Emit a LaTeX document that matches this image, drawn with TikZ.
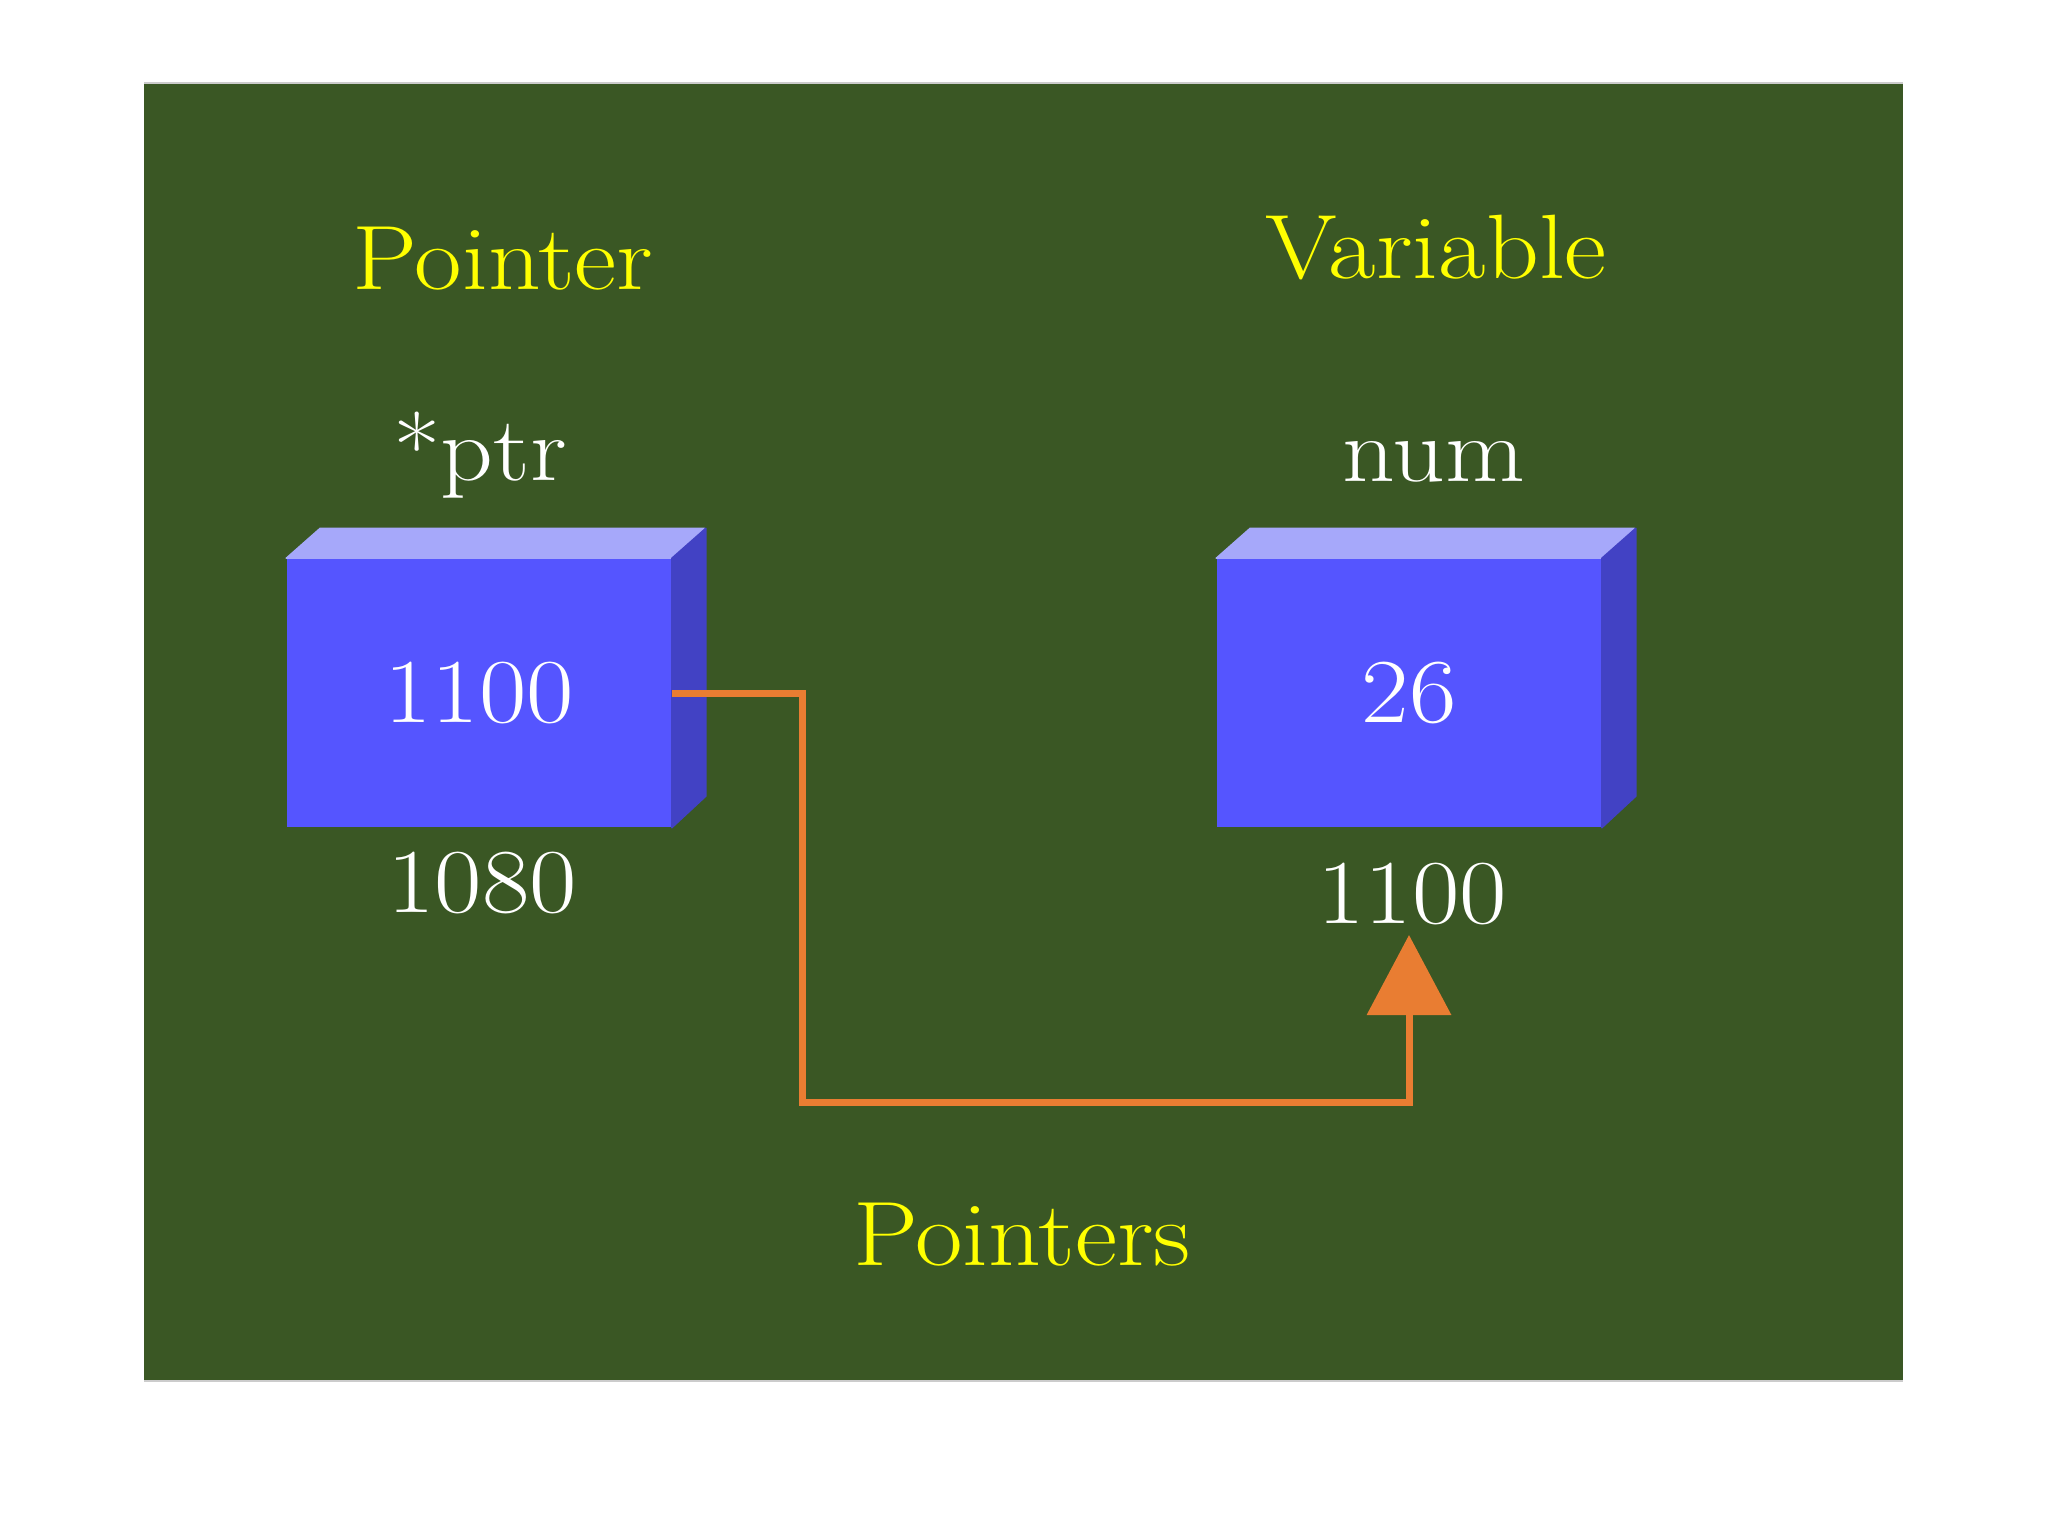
\documentclass[tikz,border=0pt]{standalone}
\usepackage{graphicx}
\usetikzlibrary{arrows.meta}
\definecolor{bgreen}{RGB}{58,87,36}
\definecolor{frontblue}{RGB}{85,85,255}
\definecolor{topblue}{RGB}{166,168,250}
\definecolor{sideblue}{RGB}{66,66,196}
\definecolor{ptrorange}{RGB}{233,125,50}
\definecolor{ylw}{RGB}{255,255,0}
\newcommand\widetxt[1]{\scalebox{1.13}[1]{#1}}
\tikzset{
  big/.style={font=\fontsize{26}{31}\selectfont, inner sep=0pt, anchor=base},
  title/.style={big, text=ylw},
  label/.style={big, text=white},
  frontbox/.style={fill=frontblue, draw=none, minimum width=3.84cm, minimum height=2.68cm,
    inner sep=0pt, text=white, font=\fontsize{26}{31}\selectfont},
  topface/.style={fill=topblue, draw=topblue, line width=0.4pt, line join=round},
  sideface/.style={fill=sideblue, draw=sideblue, line width=0.4pt, line join=round},
  ptrline/.style={draw=ptrorange, line width=0.07cm, line join=miter,
    -{Triangle[length=0.8cm, width=0.83cm]}},
}
\begin{document}
\begin{tikzpicture}[x=0.01cm, y=-0.01cm]
\useasboundingbox (0,0) rectangle (2048,1536);
\fill[white] (0,0) rectangle (2048,1536);
\fill[bgreen] (144,83) rectangle (1903,1381);
\draw[gray!40, line width=0.02cm] (144,83) -- (1903,83);
\draw[gray!40, line width=0.02cm] (144,1381) -- (1903,1381);

% titles
\node[title] (tptr) at (503,289) {\widetxt{Pointer}};
\node[title] (tvar) at (1436,278) {\widetxt{Variable}};
\node[title] (tbottom) at (1022,1265) {\widetxt{Pointers}};

% names
\node[label] (nptr) at (480,480) {\widetxt{*ptr}};
\node[label] (nnum) at (1434,481) {\widetxt{num}};

% box 1
\node[frontbox] (b1) at (479,693) {\widetxt{1100}};
\path[topface] (b1.north west) -- ++(34,-30) -- ++(384,0) -- (b1.north east) -- cycle;
\path[sideface] (b1.north east) -- ++(34,-30) -- ++(0,268) -- (b1.south east) -- cycle;

% box 2
\node[frontbox] (b2) at (1409,693) {\widetxt{26}};
\path[topface] (b2.north west) -- ++(34,-30) -- ++(384,0) -- (b2.north east) -- cycle;
\path[sideface] (b2.north east) -- ++(34,-30) -- ++(0,268) -- (b2.south east) -- cycle;

% addresses
\node[label] (a1) at (482,912) {\widetxt{1080}};
\node[label] (a2) at (1412,923) {\widetxt{1100}};

% pointer connector
\coordinate (tip) at (1409,935);
\draw[ptrline] (b1.east) -| (802,1102) -| (tip);
\end{tikzpicture}
\end{document}
